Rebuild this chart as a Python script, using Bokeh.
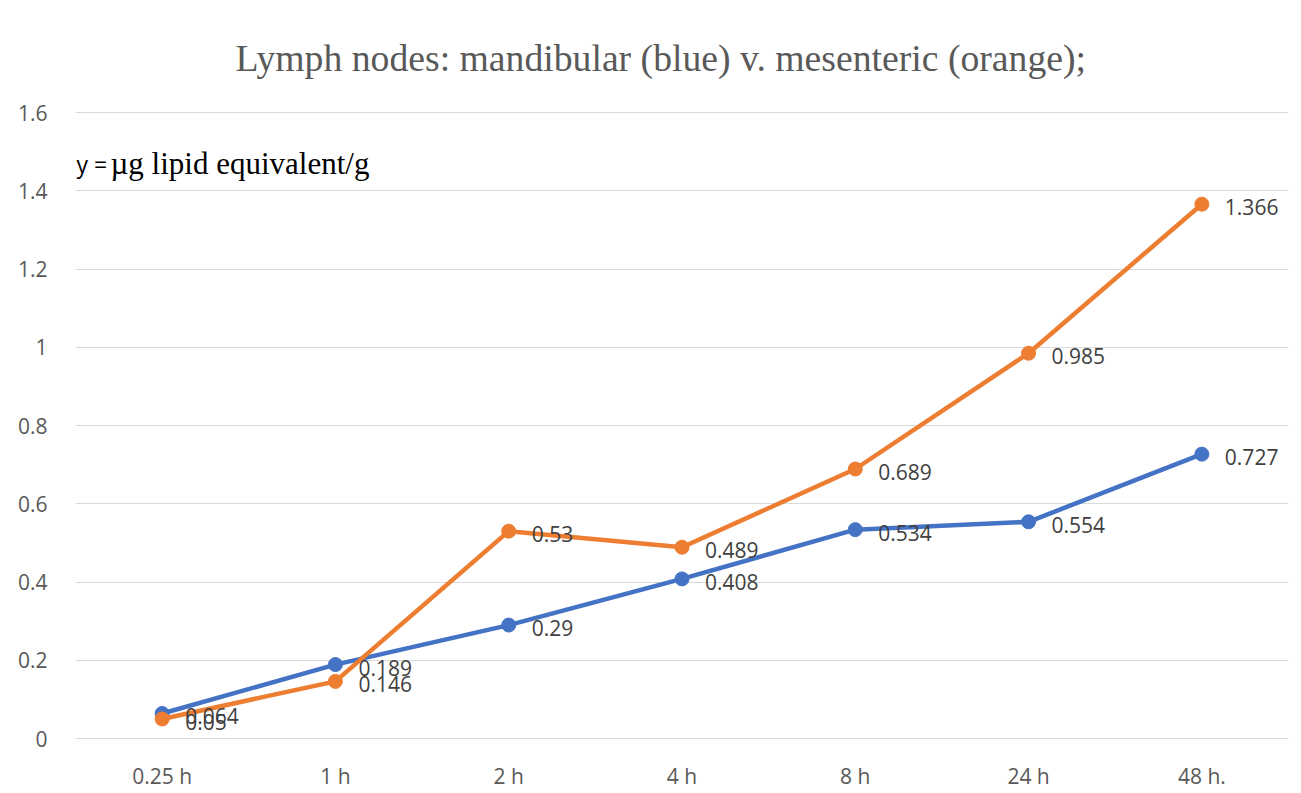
from bokeh.plotting import figure
from bokeh.models import ColumnDataSource, Label, FixedTicker, CustomJSTickFormatter, LabelSet
from bokeh.core.properties import value
from bokeh.embed import file_html
from bokeh.resources import INLINE

categories = ["0.25 h", "1 h", "2 h", "4 h", "8 h", "24 h", "48 h."]
mandibular = [0.064, 0.189, 0.29, 0.408, 0.534, 0.554, 0.727]
mesenteric = [0.05, 0.146, 0.53, 0.489, 0.689, 0.985, 1.366]
y_ticks = [0, 0.2, 0.4, 0.6, 0.8, 1.0, 1.2, 1.4, 1.6]

BLUE = "#4472C4"
ORANGE = "#ED7D31"
GRID = "#d9d9d9"
TXT = "#595959"
SANS = "Open Sans"

p = figure(x_range=categories, y_range=(0, 1.603), width=1293, height=792,
           output_backend="svg", toolbar_location=None,
           min_border_left=75, min_border_right=5, min_border_top=111, min_border_bottom=51)
p.outline_line_color = None
p.background_fill_color = "white"
p.border_fill_color = "white"

p.title.text = "Lymph nodes: mandibular (blue) v. mesenteric (orange);"
p.title.text_font = "Liberation Serif"
p.title.text_font_size = "37.7px"
p.title.text_font_style = "normal"
p.title.text_color = TXT
p.title.align = "left"
p.title.offset = 160
p.title.standoff = 65

p.xgrid.grid_line_color = None
p.ygrid.grid_line_color = GRID
p.ygrid.grid_line_width = 1

p.yaxis.ticker = FixedTicker(ticks=y_ticks)
p.yaxis.formatter = CustomJSTickFormatter(code="return String(parseFloat(tick.toFixed(2)));")
p.yaxis.axis_line_color = None
p.yaxis.major_tick_line_color = None
p.yaxis.minor_tick_line_color = None
p.yaxis.major_label_text_font = SANS
p.yaxis.major_label_text_font_size = "21px"
p.yaxis.major_label_text_color = TXT
p.yaxis.major_label_standoff = 22

p.xaxis.axis_line_color = GRID
p.xaxis.major_tick_line_color = None
p.xaxis.minor_tick_line_color = None
p.xaxis.major_label_text_font = SANS
p.xaxis.major_label_text_font_size = "21px"
p.xaxis.major_label_text_color = TXT
p.xaxis.major_label_standoff = 17

src_b = ColumnDataSource(dict(x=categories, y=mandibular, t=[str(v) for v in mandibular]))
src_o = ColumnDataSource(dict(x=categories, y=mesenteric, t=[str(v) for v in mesenteric]))

p.line("x", "y", source=src_b, line_color=BLUE, line_width=4.5)
p.scatter("x", "y", source=src_b, size=14, fill_color=BLUE, line_color=BLUE)
p.line("x", "y", source=src_o, line_color=ORANGE, line_width=4.5)
p.scatter("x", "y", source=src_o, size=14, fill_color=ORANGE, line_color=ORANGE)

for src in (src_b, src_o):
    p.add_layout(LabelSet(x="x", y="y", text="t", source=src, x_offset=23, y_offset=-3,
                          text_font=value(SANS), text_font_size="21px", text_color="#404040",
                          text_baseline="middle", text_align="left"))

p.add_layout(Label(x=0, y=1.6, x_offset=1, y_offset=-51, text="y =", text_font=SANS,
                   text_font_size="23px", text_color="black", text_baseline="alphabetic"))
p.add_layout(Label(x=0, y=1.6, x_offset=35, y_offset=-51, text="µg lipid equivalent/g",
                   text_font="Liberation Serif", text_font_size="31px", text_color="black",
                   text_baseline="alphabetic"))

open("out.html", "w").write(file_html(p, INLINE))
